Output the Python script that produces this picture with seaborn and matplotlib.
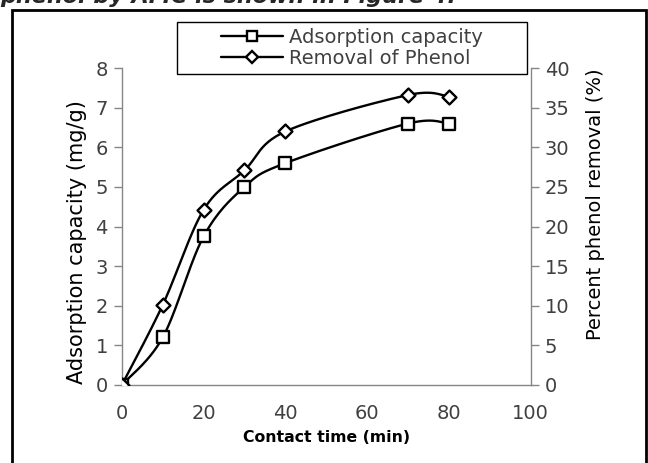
import numpy as np
import pandas as pd
import seaborn as sns
import matplotlib.pyplot as plt
from matplotlib.lines import Line2D
from matplotlib.patches import Rectangle

# Data
contact_time = [0, 10, 20, 30, 40, 70, 80]
adsorption_capacity = [0, 1.2, 3.75, 5.0, 5.6, 6.6, 6.6]
phenol_removal = [0, 10.1, 22.1, 27.1, 32.0, 36.6, 36.4]

x_ticks = [0, 20, 40, 60, 80, 100]
left_ticks = [0, 1, 2, 3, 4, 5, 6, 7, 8]
right_ticks = [0, 5, 10, 15, 20, 25, 30, 35, 40]


def smooth_path(x, y, xspan, yspan, n=30):
    """Catmull-Rom style smoothing of the connecting line (like Excel's smoothed line)."""
    px = np.asarray(x, float) / xspan
    py = np.asarray(y, float) / yspan
    pts = np.column_stack([px, py])
    pts = np.vstack([pts[0], pts, pts[-1]])
    out = []
    for i in range(1, len(pts) - 2):
        p0, p1, p2, p3 = pts[i - 1], pts[i], pts[i + 1], pts[i + 2]
        b1 = p1 + (p2 - p0) / 6
        b2 = p2 - (p3 - p1) / 6
        t = np.linspace(0, 1, n)[:, None]
        seg = ((1 - t) ** 3) * p1 + 3 * ((1 - t) ** 2) * t * b1 + 3 * (1 - t) * t ** 2 * b2 + t ** 3 * p2
        out.append(seg)
    out = np.vstack(out)
    return out[:, 0] * xspan, out[:, 1] * yspan


sns.set_style("white")
plt.rcParams['font.family'] = ['DejaVu Sans']

df = pd.DataFrame({"time": contact_time, "q": adsorption_capacity, "removal": phenol_removal})

fig = plt.figure(figsize=(6.48, 4.63), dpi=100)
ax = fig.add_axes([0.188, 0.1685, 0.631, 0.6845])
ax2 = ax.twinx()

grey = "#868686"
txt = "#404040"

# Adsorption capacity (left axis)
sx, sy = smooth_path(contact_time, adsorption_capacity, 100, 8)
ax.plot(sx, sy, color="black", lw=1.7, zorder=2)
sns.scatterplot(data=df, x="time", y="q", ax=ax, marker="s", s=64,
                facecolor="white", edgecolor="black", linewidth=1.7, zorder=3)

# Removal of phenol (right axis)
rx, ry = smooth_path(contact_time, phenol_removal, 100, 40)
ax2.plot(rx, ry, color="black", lw=1.7, zorder=2)
sns.scatterplot(data=df, x="time", y="removal", ax=ax2, marker="D", s=50,
                facecolor="white", edgecolor="black", linewidth=1.7, zorder=3)

ax.set_xlim(0, 100)
ax.set_ylim(0, 8)
ax2.set_ylim(0, 40)
ax.set_xticks(x_ticks)
ax.set_yticks(left_ticks)
ax2.set_yticks(right_ticks)

for a in (ax, ax2):
    for s in a.spines.values():
        s.set_color(grey)
        s.set_linewidth(1.0)
    a.spines["top"].set_visible(False)
    a.tick_params(colors=grey, labelcolor=txt, labelsize=14, length=6, width=1.0, direction="out")
ax.spines["right"].set_visible(False)
ax2.spines["left"].set_visible(False)
ax2.spines["bottom"].set_visible(False)
ax.tick_params(axis="y", pad=4)
ax.tick_params(axis="x", pad=8)
ax2.tick_params(axis="y", pad=4)

ax.set_xlabel("Contact time (min)", fontsize=11.3, fontweight="bold", color="black", labelpad=5)
ax.set_ylabel("Adsorption capacity (mg/g)", fontsize=15, color="black")
ax2.set_ylabel("Percent phenol removal (%)", fontsize=14, color="black")
ax.yaxis.set_label_coords(-0.085, 0.45)
ax2.yaxis.set_label_coords(1.135, 0.57)

handles = [
    Line2D([], [], color="black", lw=1.7, marker="s", markersize=7,
           markerfacecolor="white", markeredgecolor="black", markeredgewidth=1.7),
    Line2D([], [], color="black", lw=1.7, marker="D", markersize=6,
           markerfacecolor="white", markeredgecolor="black", markeredgewidth=1.7),
]
leg = fig.legend(handles, ["Adsorption capacity", "Removal of Phenol"],
                 loc="upper left", bbox_to_anchor=(219 / 648, 1 - 26 / 463),
                 fontsize=14, frameon=False, handlelength=3.2,
                 borderpad=0.1, borderaxespad=0.0, labelspacing=0.08, handletextpad=0.3)
for t in leg.get_texts():
    t.set_color(txt)

# legend box, outer frame and clipped text line above the chart
fig.patches.append(Rectangle((177 / 648, 1 - 74 / 463), (527 - 177) / 648, 52 / 463,
                             transform=fig.transFigure, fill=False, edgecolor="black", lw=1.0))
fig.patches.append(Rectangle((12 / 648, -0.02), (646 - 12) / 648, 1.02 - 10 / 463,
                             transform=fig.transFigure, fill=False, edgecolor="black", lw=2))
fig.text(0.0, 1 - 3 / 463, "phenol by AMC is shown in Figure 4.", fontsize=16,
         fontweight="bold", style="italic", va="baseline", ha="left")

fig.savefig("out.png", dpi=100)
